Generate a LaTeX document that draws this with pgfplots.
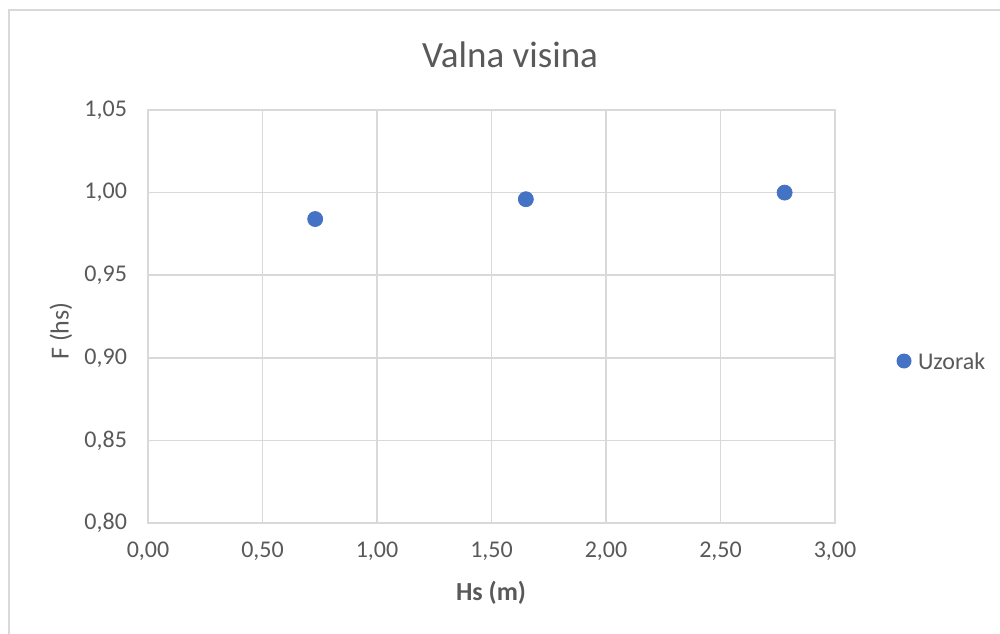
\documentclass[border=0pt]{standalone}
\usepackage{pgfplots}
\pgfplotsset{compat=1.18}
\usepackage{fontspec}
\setmainfont{Carlito}
\definecolor{gridc}{HTML}{D9D9D9}
\definecolor{txt}{HTML}{595959}
\definecolor{ser}{HTML}{4472C4}
\begin{document}
\begin{tikzpicture}[x=0.5pt,y=0.5pt]
\useasboundingbox (0,0) rectangle (1000,633);
\begin{scope}
\clip (0,0) rectangle (1000,633);
\draw[gridc, line width=0.75pt] (9,-20) -- (9,623) -- (1020,623);
\end{scope}
\begin{axis}[
  at={(74pt,55pt)}, anchor=south west,
  scale only axis, width=343.5pt, height=206.5pt,
  xmin=0, xmax=3, ymin=0.8, ymax=1.05,
  xtick={0,0.5,...,3}, ytick={0.8,0.85,...,1.05},
  grid=major, major grid style={gridc, line width=0.75pt},
  axis line style={gridc, line width=0.75pt},
  tick style={draw=none},
  /pgf/number format/.cd, fixed, fixed zerofill, precision=2, use comma, assume math mode=true,
  /pgfplots/.cd,
  ticklabel style={font=\fontsize{12}{14}\selectfont, text=txt},
  xticklabel style={yshift=-6pt},
  yticklabel style={xshift=-7pt},
  clip=false,
]
\addplot[only marks, mark=*, mark size=3.75pt, mark options={fill=ser, draw=ser}] coordinates {
  (0.73,0.984) (1.65,0.996) (2.78,1.000)
};
\end{axis}
\node[text=txt, font=\fontsize{18.5}{22}\selectfont] at (510,578) {Valna visina};
\node[text=txt, font=\bfseries\fontsize{13}{15}\selectfont] at (491,40) {Hs (m)};
\node[text=txt, font=\fontsize{13}{15}\selectfont, rotate=90] at (61,302) {F (hs)};
\fill[ser] (904,272) circle (7.5);
\node[text=txt, font=\fontsize{12}{14}\selectfont, anchor=west] at (911,272) {Uzorak};
\end{tikzpicture}
\end{document}
